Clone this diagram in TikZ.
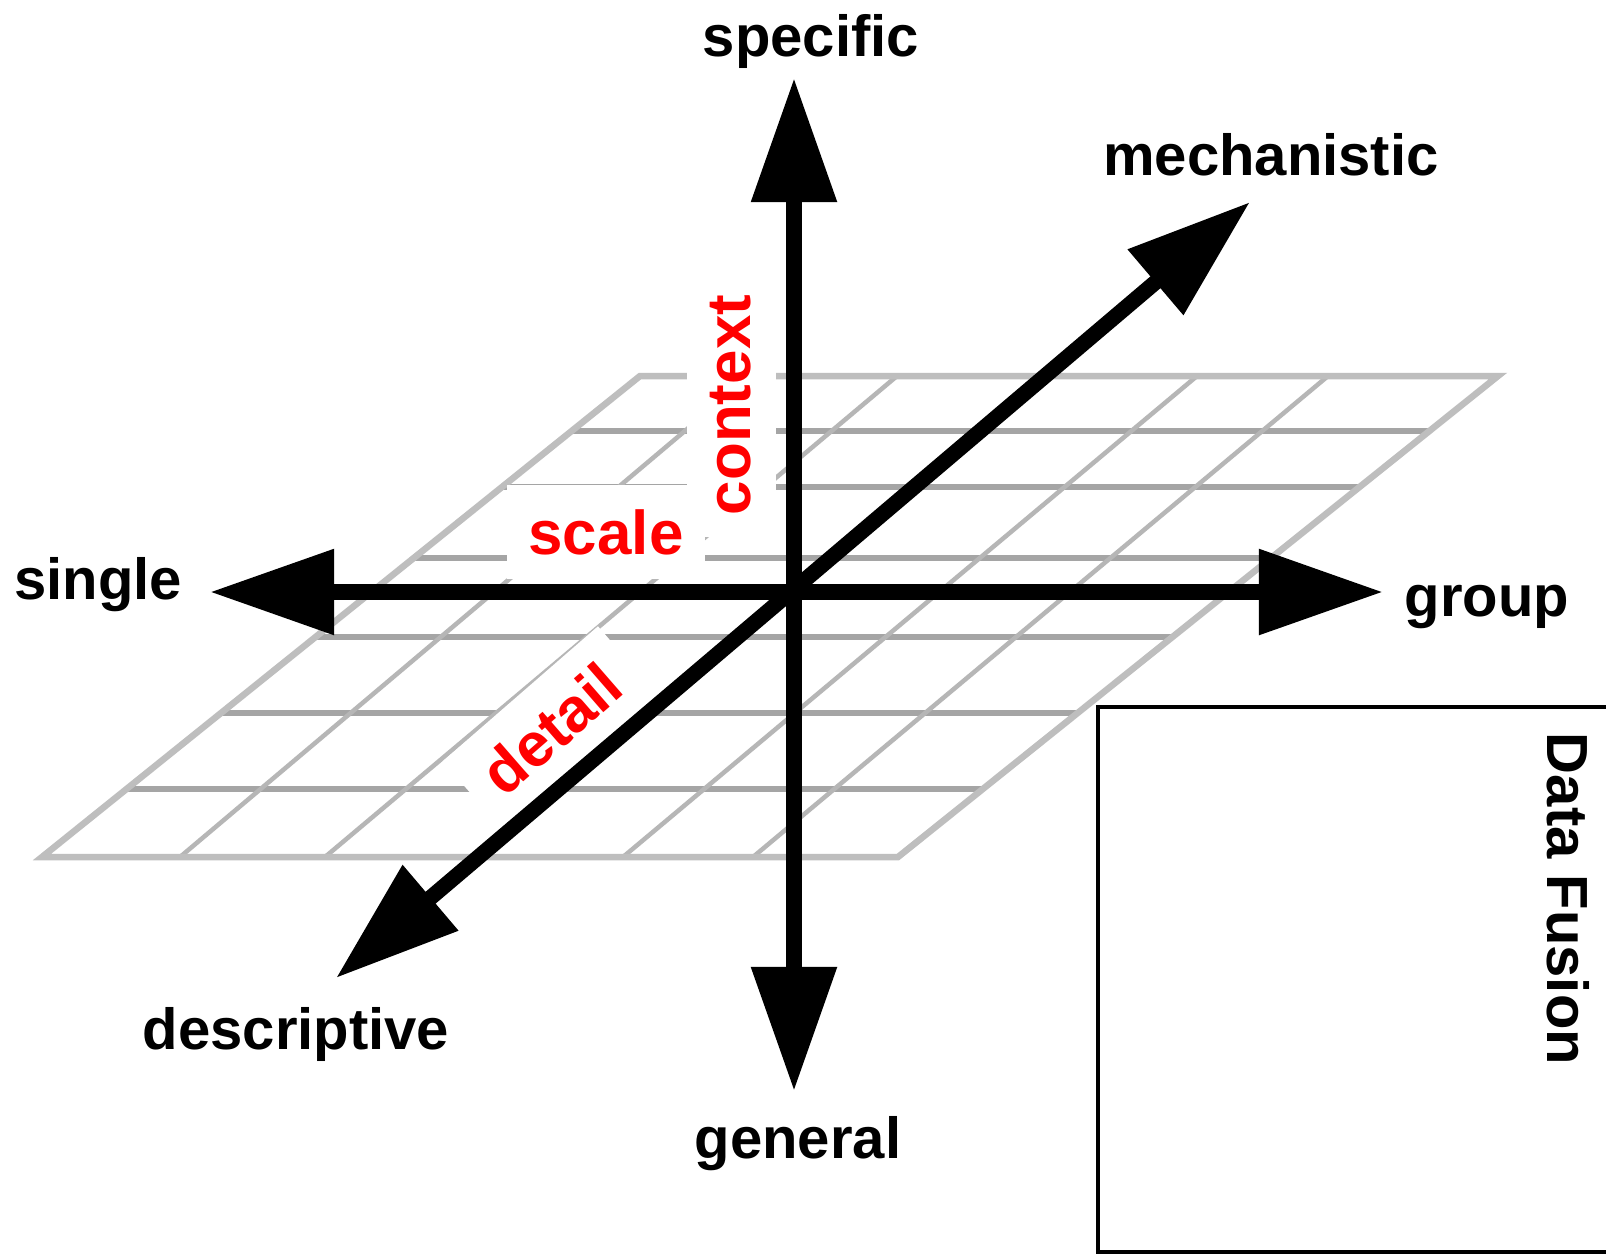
\documentclass[tikz,border=0pt]{standalone}
\usepackage{fontspec}
\setmainfont{Liberation Sans}
\usepackage{xcolor}
\usepackage{tikz}
\usetikzlibrary{arrows.meta,calc}
\definecolor{rowgray}{RGB}{165,165,165}
\definecolor{colgray}{RGB}{182,182,182}
\definecolor{edgegray}{RGB}{190,190,190}
\definecolor{labelred}{RGB}{255,0,0}

\begin{document}
\begin{tikzpicture}[x=0.01cm,y=-0.01cm,
  every node/.style={font=\bfseries\fontsize{16.5}{18}\selectfont,inner sep=0pt},
  redlabel/.style={text=labelred,fill=white,
    font=\bfseries\fontsize{17.6}{19}\selectfont,inner xsep=2.2mm,inner ysep=2.4mm},
  axis/.style={line width=1.55mm,
    {Triangle[length=12.4mm,width=8.2mm]}-{Triangle[length=12.4mm,width=8.2mm]}},
  gridrow/.style={rowgray,line width=0.6mm},
  gridcol/.style={colgray,line width=0.45mm},
  gridedge/.style={edgegray,line width=0.65mm,line join=miter}]
  \useasboundingbox (0,0) rectangle (1606,1257);
  \fill[white] (0,0) rectangle (1606,1257);

  \coordinate (tl) at (640,376);
  \coordinate (tr) at (1498,376);
  \coordinate (bl) at (42,857);
  \coordinate (br) at (898,857);
  \foreach \t in {0.1143,0.2308,0.3784,0.5426,0.7006,0.8586}
    \draw[gridrow] ($(tl)!\t!(bl)$) -- ($(tr)!\t!(br)$);
  \foreach \b/\u in {180/750,325/897,478/1046,623/1197,753/1328}
    \draw[gridcol] (\b,857) -- (\u,376);
  \draw[gridedge] (tl) -- (tr) -- (br) -- (bl) -- cycle;

  \node[redlabel,rotate=90] (context) at (731,405) {context};
  \node[redlabel] (scale) at (606,532) {scale};
  \node[redlabel,rotate=41] (detail) at (551,729) {detail};

  \coordinate (north) at (794,78);
  \coordinate (south) at (794,1091);
  \coordinate (west) at (210,592);
  \coordinate (east) at (1383,592);
  \coordinate (back) at (1250,202);
  \coordinate (front) at (336,978);
  \draw[axis] (south) -- (north);
  \draw[axis] (west) -- (east);
  \draw[axis] (front) -- (back);

  \node[anchor=base] (specific) at (811,56) {specific};
  \node[anchor=base] (mechanistic) at (1271,175) {mechanistic};
  \node[anchor=base] (single) at (98,599) {single};
  \node[anchor=base] (group) at (1487,616) {group};
  \node[anchor=base] (descriptive) at (296,1049) {descriptive};
  \node[anchor=base] (general) at (798,1158) {general};

  \draw[line width=0.35mm] (1620,707) -| (1098,1252) -- (1620,1252);
  \node[rotate=-90] (fusion) at (1568,899) {Data Fusion};
\end{tikzpicture}
\end{document}
